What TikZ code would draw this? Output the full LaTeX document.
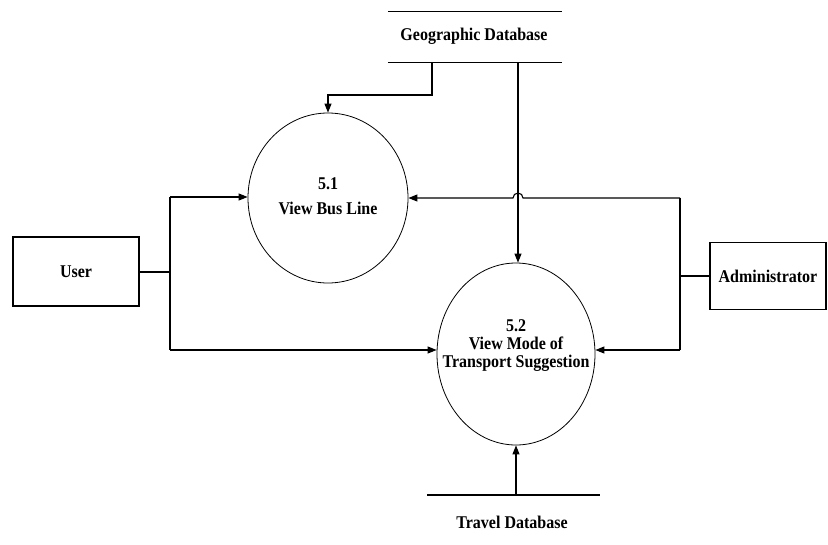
\documentclass[tikz,border=0pt]{standalone}
\usepackage{graphicx}
\usepackage{fontspec}
\setmainfont{Liberation Serif}
\usetikzlibrary{arrows.meta,shapes.geometric}
% slightly tall lettering
\newcommand\tallbox[1]{\scalebox{1}[1.12]{#1}}
\begin{document}
\begin{tikzpicture}[x=1pt,y=-1pt,
  every node/.style={font=\fontsize{16}{16}\selectfont\bfseries},
  flow/.style={line width=1.1pt},
  arrow/.style={flow,-{Triangle[length=9pt,width=7pt]}},
  entity/.style={draw,line width=1.1pt,inner sep=0pt},
  process/.style={draw,ellipse,line width=0.8pt,inner sep=0pt},
  label/.style={inner sep=0pt}]
\useasboundingbox (0,0) rectangle (828,544);

% external entities
\node[entity,minimum width=126pt,minimum height=69pt] (user) at (76,271.5) {\tallbox{User}};
\node[entity,minimum width=116pt,minimum height=67pt] (admin) at (768,276) {\tallbox{Administrator}};

% processes
\node[process,minimum width=160pt,minimum height=170pt] (p51) at (328,198) {};
\node[label,font=\fontsize{16}{22}\selectfont\bfseries] (p51t) at (328,197)
  {\tallbox{\begin{tabular}{@{}c@{}}5.1\\View Bus Line\end{tabular}}};
\node[process,minimum width=158pt,minimum height=182pt] (p52) at (516,354) {};
\node[label] (p52t) at (516,346)
  {\tallbox{\begin{tabular}{@{}c@{}}5.2\\View Mode of\\Transport Suggestion\end{tabular}}};

% data stores
\node[inner sep=0pt,minimum width=174pt,minimum height=50pt] (geo) at (475,37) {};
\node[label] (geot) at (474,36) {\tallbox{Geographic Database}};
\draw[flow] (geo.north west) -- (geo.north east);
\draw[flow] (geo.south west) -- (geo.south east);
\node[label] (tdb) at (512,522) {\tallbox{Travel Database}};
\coordinate (t1) at (427,495);
\coordinate (t2) at (600,495);
\draw[flow] (t1) -- (t2);

% junction points
\coordinate (g1) at (432,62);
\coordinate (g2) at (518,62);
\coordinate (u0) at (170,272);
\coordinate (u1) at (170,197);
\coordinate (u2) at (170,350);
\coordinate (a0) at (680,276);
\coordinate (a1) at (680,198);
\coordinate (a2) at (680,350);
\coordinate (t0) at (516,495);

% data flows from the geographic store
\draw[arrow] (g1) -- (432,95) -| (p51.north);
\draw[arrow] (g2) -- (g2 |- p52.north);

% user flows
\draw[flow] (user.east |- u0) -- (u0);
\draw[flow] (u1) -- (u2);
\draw[arrow] (u1) -- (u1 -| p51.west);
\draw[arrow] (u2) -- (u2 -| p52.west);

% administrator flows, hopping over the store line
\draw[flow] (admin.west) -- (a0);
\draw[flow] (a1) -- (a2);
\draw[arrow] (a1) -- (523,198) arc[start angle=0,end angle=-180,radius=5] -- (a1 -| p51.east);
\draw[arrow] (a2) -- (a2 -| p52.east);

% travel store flow
\draw[arrow] (t0) -- (p52.south);
\end{tikzpicture}
\end{document}
